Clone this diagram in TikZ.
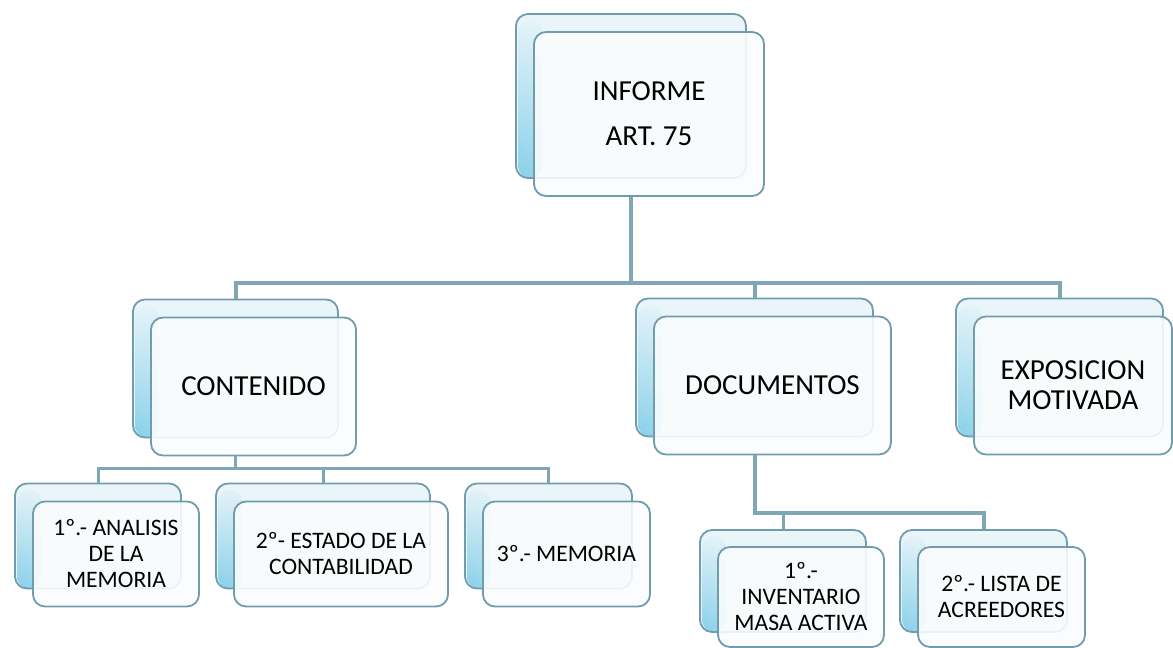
\documentclass[tikz,border=0pt]{standalone}
\usepackage{fontspec}
\setmainfont{Carlito}
\usetikzlibrary{positioning,calc,fadings}
\definecolor{cardline}{RGB}{112,156,173}
\definecolor{linkline}{RGB}{126,166,181}
\definecolor{cardback}{RGB}{233,245,249}
\definecolor{cardglow}{RGB}{135,208,234}
\definecolor{cardfront}{RGB}{249,252,253}
\tikzset{
    backcard/.style={
        rectangle,
        rounded corners=6pt,
        draw=cardline,
        line width=0.9pt,
        fill=cardback,
        inner sep=0pt,
        path picture={
            \shade[left color=cardglow, right color=cardback, path fading=north]
                ([xshift=1pt]path picture bounding box.south west) rectangle
                ([xshift=13pt,yshift=-3pt]path picture bounding box.north west);
        },
    },
    frontcard/.style={
        rectangle,
        rounded corners=6pt,
        draw=cardline,
        line width=0.9pt,
        fill=cardfront,
        fill opacity=0.9,
        text opacity=1,
        align=center,
        inner sep=2pt,
    },
    cardsize/.style 2 args={
        minimum width=#1,
        minimum height=#2,
    },
    bigcard/.style={
        font=\fontsize{14.5}{15}\selectfont,
    },
    smallcard/.style={
        font=\fontsize{11.8}{13}\selectfont,
    },
    link/.style={
        draw=linkline,
        line width=2pt,
    },
    sublink/.style={
        draw=linkline,
        line width=1.5pt,
    },
}
\begin{document}
\begin{tikzpicture}[x=0.5pt,y=-0.5pt]
    \useasboundingbox (0,0) rectangle (1173,648);

    % Nodes and position definitions
    \node [backcard, cardsize={115pt}{82pt}] (infB) at (631,96) {};
    \node [frontcard, bigcard, cardsize={115pt}{82pt}] (infF) at ([shift={(18,18)}]infB) {INFORME\\[7.5pt]ART. 75};

    \node [backcard, cardsize={102.5pt}{69pt}] (conB) at (235.5,368.5) {};
    \node [frontcard, bigcard, cardsize={102.5pt}{69pt}] (conF) at ([shift={(18,18)}]conB) {CONTENIDO};

    \node [backcard, cardsize={118.5pt}{69pt}] (docB) at (754.5,367.5) {};
    \node [frontcard, bigcard, cardsize={118.5pt}{69pt}] (docF) at ([shift={(18,18)}]docB) {DOCUMENTOS};

    \node [backcard, cardsize={103.5pt}{69pt}] (expB) at (1059.5,367.5) {};
    \node [frontcard, bigcard, cardsize={99pt}{69pt}] (expF) at ([shift={(13.5,18)}]expB) {EXPOSICION\\MOTIVADA};

    \node [backcard, cardsize={83pt}{52.5pt}] (anaB) at (98,536) {};
    \node [frontcard, smallcard, cardsize={83pt}{52.5pt}] (anaF) at ([shift={(18,18)}]anaB) {1º.- ANALISIS\\DE LA\\MEMORIA};

    \node [backcard, cardsize={107pt}{52.5pt}] (estB) at (323,536) {};
    \node [frontcard, smallcard, cardsize={107pt}{52.5pt}] (estF) at ([shift={(18,18)}]estB) {2º- ESTADO DE LA\\CONTABILIDAD};

    \node [backcard, cardsize={83.5pt}{52.5pt}] (memB) at (548.5,536) {};
    \node [frontcard, smallcard, cardsize={83.5pt}{52.5pt}] (memF) at ([shift={(18,18)}]memB) {3º.- MEMORIA};

    \node [backcard, cardsize={83pt}{51pt}] (invB) at (783,581) {};
    \node [frontcard, smallcard, cardsize={83pt}{50pt}] (invF) at ([shift={(18,16)}]invB) {1º.-\\INVENTARIO\\MASA ACTIVA};

    \node [backcard, cardsize={83.5pt}{51pt}] (lisB) at (983.5,581) {};
    \node [frontcard, smallcard, cardsize={83.5pt}{50pt}] (lisF) at ([shift={(18,16)}]lisB) {2º.- LISTA DE\\ACREEDORES};

    \coordinate (busA) at (0,283);
    \coordinate (busB) at (0,468);
    \coordinate (busC) at (0,513);

    % Vertex definitions
    \draw [link] (infB.center |- infF.south) -- (infB.center |- busA);
    \draw [link] (conB.north) |- (expB.north |- busA) -- (expB.north);
    \draw [link] (docB.north) -- (docB.north |- busA);

    \draw [sublink] (conB.center |- conF.south) -- (conB.center |- busB);
    \draw [sublink] (anaB.north) |- (memB.north |- busB) -- (memB.north);
    \draw [sublink] (estB.north) -- (estB.north |- busB);

    \draw [link] (docB.center |- docF.south) |- (lisB.north |- busC) -- (lisB.north);
    \draw [sublink] (invB.north) -- (invB.north |- busC);
\end{tikzpicture}
\end{document}
